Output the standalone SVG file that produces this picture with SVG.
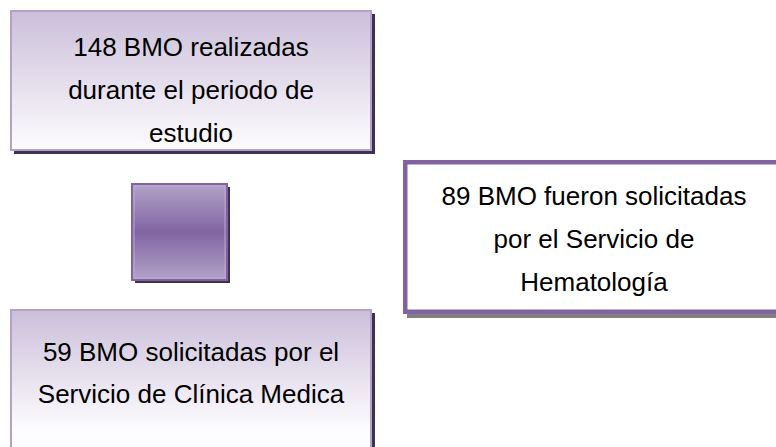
<svg xmlns="http://www.w3.org/2000/svg" width="776" height="447" viewBox="0 0 776 447">
<defs>
<linearGradient id="lav" x1="0" y1="0" x2="0" y2="1">
<stop offset="0" stop-color="#cbbfda"/>
<stop offset="1" stop-color="#fdfcfe"/>
</linearGradient>
<linearGradient id="lavb" x1="0" y1="310" x2="0" y2="430" gradientUnits="userSpaceOnUse">
<stop offset="0" stop-color="#cbbfda"/>
<stop offset="1" stop-color="#fdfcfe"/>
</linearGradient>
<linearGradient id="sq" x1="0" y1="0" x2="0" y2="1">
<stop offset="0" stop-color="#b3a3c9"/>
<stop offset="0.5" stop-color="#8064a2"/>
<stop offset="1" stop-color="#b3a3c9"/>
</linearGradient>
</defs>
<style>
text{font-family:"Liberation Sans",Arial,sans-serif;font-size:26px;fill:#000;text-anchor:middle}
.sh{fill:#3f3151}
.lb{fill:url(#lav);stroke:#b3a2c7;stroke-width:2}
</style>
<g id="connectors"></g>
<g id="n1">
<rect class="sh" x="14" y="14" width="361" height="140"/>
<rect class="lb" x="11" y="11" width="360" height="139"/>
<text x="191" y="56">148 BMO realizadas</text>
<text x="191" y="99">durante el periodo de</text>
<text x="191" y="142">estudio</text>
</g>
<g id="n2">
<rect class="sh" x="135" y="187" width="95" height="96"/>
<rect x="132" y="184" width="95" height="96" fill="url(#sq)" stroke="#8064a2" stroke-width="2"/>
<rect x="134" y="186" width="91" height="92" fill="none" stroke="#b9a9ce" stroke-width="1"/>
</g>
<g id="n3">
<rect x="407" y="164" width="380" height="154" fill="#7f7f7f"/>
<rect x="405.25" y="162.25" width="380" height="149.5" fill="#fff" stroke="#8064a2" stroke-width="4.5"/>
<text x="594" y="205">89 BMO fueron solicitadas</text>
<text x="594" y="248">por el Servicio de</text>
<text x="594" y="291">Hematología</text>
</g>
<g id="n4">
<rect class="sh" x="14" y="313" width="361" height="140"/>
<rect x="11" y="310" width="360" height="145" fill="url(#lavb)" stroke="#b3a2c7" stroke-width="2"/>
<text x="191" y="361">59 BMO solicitadas por el</text>
<text x="191" y="403">Servicio de Clínica Medica</text>
</g>
</svg>
